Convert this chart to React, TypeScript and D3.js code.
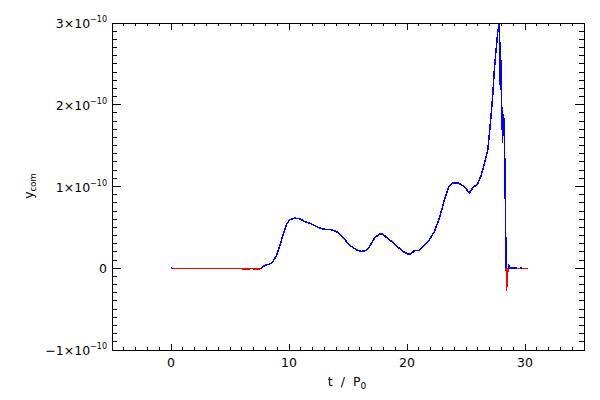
import React from 'react';
import * as d3 from 'd3';

// time in units of P0
const tValues: number[] = [0, 0.08, 3.0, 6.0, 6.05, 6.6, 6.7, 7.0, 7.05, 7.45, 7.66, 7.94, 8.37, 8.65, 8.93, 9.21, 9.49, 9.78, 10.06, 10.48, 10.91, 11.33, 11.90, 12.32, 12.88, 13.59, 14.01, 14.44, 14.86, 15.28, 15.71, 16.13, 16.55, 16.83, 17.25, 17.68, 17.96, 18.38, 18.80, 19.23, 19.65, 20.07, 20.36, 20.64, 21.06, 21.48, 21.90, 22.33, 22.75, 23.17, 23.54, 23.87, 24.38, 24.72, 25.01, 25.29, 25.57, 25.99, 26.28, 26.56, 26.84, 26.98, 27.12, 27.26, 27.40, 27.55, 27.68, 27.80, 27.85, 27.88, 27.91, 27.95, 28.00, 28.04, 28.10, 28.16, 28.25, 28.31, 28.39, 28.44, 28.50, 28.56, 28.61, 28.66, 29.2, 29.4, 29.7, 29.85, 30.22];
// y_com in units of 1e-10
const ycomValues: number[] = [0.001, -0.001, -0.001, -0.001, -0.012, -0.012, -0.003, -0.003, -0.012, -0.01, 0.002, 0.034, 0.051, 0.083, 0.153, 0.267, 0.410, 0.532, 0.593, 0.614, 0.605, 0.572, 0.544, 0.511, 0.479, 0.471, 0.450, 0.398, 0.328, 0.267, 0.226, 0.206, 0.218, 0.267, 0.369, 0.422, 0.418, 0.361, 0.316, 0.260, 0.206, 0.174, 0.178, 0.218, 0.218, 0.288, 0.349, 0.451, 0.614, 0.838, 1.001, 1.045, 1.040, 1.012, 0.971, 0.922, 0.983, 1.032, 1.134, 1.277, 1.440, 1.644, 1.859, 2.101, 2.428, 2.672, 2.876, 2.99, 2.93, 2.50, 2.18, 2.55, 2.3, 1.88, 1.53, 1.88, 1.78, 1.04, 0.16, -0.283, -0.06, -0.03, 0.05, 0.002, 0.001, -0.001, 0.001, -0.001, -0.001];

const xTicks: number[] = [0, 10, 20, 30];
const xTickLabels: string[] = ['0', '10', '20', '30'];
const yTicks: number[] = [-1, 0, 1, 2, 3];
const yTickMantissa: string[] = ['\u22121', '0', '1', '2', '3'];
const yExponent = '\u221210';

const FONT = "'DejaVu Sans', 'Liberation Sans', sans-serif";
const BLUE = '#0000ff';
const RED = '#ff0000';

type Pt = [number, number];

export default function App() {
  const x = d3.scaleLinear().domain([-5, 35]).range([112, 584]);
  const y = d3.scaleLinear().domain([-1, 3]).range([350, 23]);
  const [x0, x1] = x.range();
  const [yb, yt] = y.range();

  // split into colored runs by sign
  const runs: { color: string; pts: Pt[] }[] = [];
  const col = (v: number) => (v < 0 ? RED : BLUE);
  const push = (color: string, a: Pt, b: Pt) => {
    const last = runs[runs.length - 1];
    if (last && last.color === color) last.pts.push(b);
    else runs.push({ color, pts: [a, b] });
  };
  for (let i = 0; i < tValues.length - 1; i++) {
    const a: Pt = [tValues[i], ycomValues[i]];
    const b: Pt = [tValues[i + 1], ycomValues[i + 1]];
    if (a[1] * b[1] < 0) {
      const tz = a[0] + ((b[0] - a[0]) * -a[1]) / (b[1] - a[1]);
      const z: Pt = [tz, 0];
      push(col(a[1]), a, z);
      push(col(b[1]), z, b);
    } else {
      push(col((a[1] + b[1]) / 2), a, b);
    }
  }
  const line = d3.line<Pt>().x((d) => x(d[0])).y((d) => y(d[1]));

  const xMinor = d3.range(-5, 36, 1).filter((v) => !xTicks.includes(v));
  const yMinor = d3.range(-10, 31, 1).map((v) => v / 10).filter((v) => !yTicks.some((t) => Math.abs(t - v) < 1e-9));

  const xMajLen = 6.5, xMinLen = 3.3, yMajLen = 9.4, yMinLen = 4.7;

  return (
    <svg width={600} height={400} style={{ position: 'absolute', left: 0, top: 0, background: '#fff' }}>
      <rect x={0} y={0} width={600} height={400} fill="#fff" />
      {runs.map((r, i) => (
        <path key={i} d={line(r.pts) || ''} fill="none" stroke={r.color} strokeWidth={1.5} strokeLinejoin="miter" shapeRendering="crispEdges" />
      ))}
      <g stroke="#000" strokeWidth={1} shapeRendering="crispEdges">
        <rect x={x0} y={yt} width={x1 - x0} height={yb - yt} fill="none" />
        {xTicks.map((v) => (
          <g key={'xM' + v}>
            <line x1={x(v)} x2={x(v)} y1={yb} y2={yb - xMajLen} />
            <line x1={x(v)} x2={x(v)} y1={yt} y2={yt + xMajLen} />
          </g>
        ))}
        {xMinor.map((v) => (
          <g key={'xm' + v}>
            <line x1={x(v)} x2={x(v)} y1={yb} y2={yb - xMinLen} />
            <line x1={x(v)} x2={x(v)} y1={yt} y2={yt + xMinLen} />
          </g>
        ))}
        {yTicks.map((v) => (
          <g key={'yM' + v}>
            <line x1={x0} x2={x0 + yMajLen} y1={y(v)} y2={y(v)} />
            <line x1={x1} x2={x1 - yMajLen} y1={y(v)} y2={y(v)} />
          </g>
        ))}
        {yMinor.map((v) => (
          <g key={'ym' + v}>
            <line x1={x0} x2={x0 + yMinLen} y1={y(v)} y2={y(v)} />
            <line x1={x1} x2={x1 - yMinLen} y1={y(v)} y2={y(v)} />
          </g>
        ))}
      </g>
      <g fontFamily={FONT} fontSize={12.5} fill="#000">
        {xTicks.map((v, i) => (
          <text key={'xl' + v} x={x(v)} y={367} textAnchor="middle">{xTickLabels[i]}</text>
        ))}
        {yTicks.map((v, i) => (
          <text key={'yl' + v} x={107} y={y(v) + 5} textAnchor="end">
            {v === 0 ? (
              yTickMantissa[i]
            ) : (
              <>
                <tspan>{yTickMantissa[i] + '\u00d710'}</tspan>
                <tspan dy={-6} fontSize={8}>{yExponent}</tspan>
              </>
            )}
          </text>
        ))}
        <text x={347} y={386} textAnchor="middle" wordSpacing={4}>
          <tspan>t / P</tspan>
          <tspan dy={3} fontSize={9}>0</tspan>
        </text>
        <text transform={`translate(33, 186) rotate(-90)`} textAnchor="middle">
          <tspan>y</tspan>
          <tspan dy={3} fontSize={8.5}>com</tspan>
        </text>
      </g>
    </svg>
  );
}
